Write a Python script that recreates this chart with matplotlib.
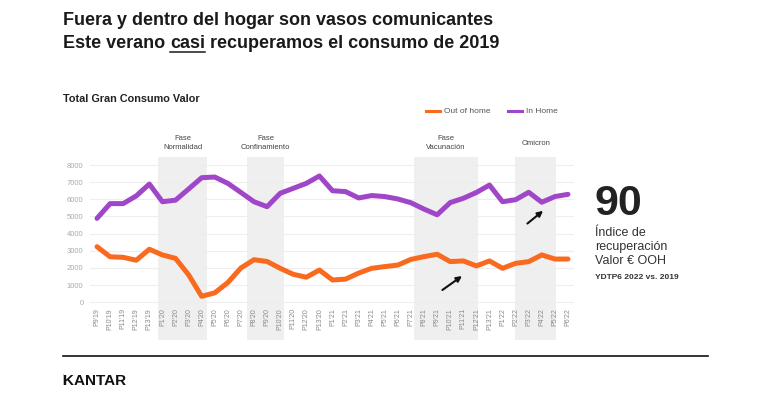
import matplotlib
matplotlib.use("Agg")
import matplotlib.pyplot as plt
from matplotlib.lines import Line2D
from matplotlib.patches import Rectangle

plt.rcParams['font.family'] = ['Liberation Sans', 'DejaVu Sans']

# ---- data ----
periods = ["P9'19", "P10'19", "P11'19", "P12'19", "P13'19",
           "P1'20", "P2'20", "P3'20", "P4'20", "P5'20", "P6'20", "P7'20", "P8'20",
           "P9'20", "P10'20", "P11'20", "P12'20", "P13'20",
           "P1'21", "P2'21", "P3'21", "P4'21", "P5'21", "P6'21", "P7'21", "P8'21",
           "P9'21", "P10'21", "P11'21", "P12'21", "P13'21",
           "P1'22", "P2'22", "P3'22", "P4'22", "P5'22", "P6'22"]

out_of_home = [3240, 2650, 2620, 2450, 3090, 2760, 2560, 1600, 350, 550, 1150, 2000, 2480,
               2380, 1980, 1630, 1460, 1880, 1300, 1350, 1700, 1980, 2080, 2170, 2500, 2660,
               2800, 2370, 2410, 2120, 2410, 1980, 2270, 2370, 2760, 2520, 2520]

in_home = [4890, 5750, 5750, 6200, 6890, 5860, 5950, 6600, 7260, 7300, 6930, 6400, 5860,
           5570, 6350, 6640, 6930, 7360, 6500, 6450, 6080, 6220, 6160, 6020, 5800, 5430,
           5100, 5810, 6060, 6400, 6830, 5860, 5980, 6410, 5830, 6160, 6290]

phase_names = ["Fase\nNormalidad", "Fase\nConfinamiento", "Fase\nVacunación", "Omicron"]
phase_spans = [(4.66, 8.41), (11.47, 14.3), (24.2, 29.15), (31.95, 35.1)]

# arrows: (start, end) in period index / value
arrows = [((26.4, 715), (27.9, 1530)), ((32.9, 4590), (34.1, 5330))]

recovery_index = "90"

ORANGE = "#FA6A1E"
PURPLE = "#A046C8"

fig = plt.figure(figsize=(7.7, 3.99), dpi=100)
ax = fig.add_axes([0.1175, 0.2381, 0.6286, 0.3684])

x = list(range(len(periods)))

# shaded phases, running down behind the tick labels
for (x0, x1) in phase_spans:
    ax.add_patch(Rectangle((x0, -0.245), x1 - x0, 1.245,
                           transform=ax.get_xaxis_transform(),
                           facecolor="#efefef", edgecolor="none",
                           clip_on=False, zorder=0))

ax.plot(x, out_of_home, color=ORANGE, lw=3.6, solid_joinstyle="round",
        solid_capstyle="round", zorder=3)
ax.plot(x, in_home, color=PURPLE, lw=3.6, solid_joinstyle="round",
        solid_capstyle="round", zorder=3)

for (start, end) in arrows:
    ax.annotate("", xy=end, xytext=start,
                arrowprops=dict(arrowstyle="-|>", color="#111111", lw=1.5,
                                mutation_scale=8, shrinkA=0, shrinkB=0),
                zorder=4)

ax.set_xlim(-0.5, len(periods) - 0.5)
ax.set_ylim(-100, 8466)
ax.set_yticks(range(0, 8001, 1000))
ax.set_xticks(x)
ax.set_xticklabels(periods, rotation=90, fontsize=5, color="#888888")
ax.tick_params(axis="y", labelsize=5.5, labelcolor="#aaaaaa", length=0, pad=5)
ax.tick_params(axis="x", length=0, pad=3)
ax.grid(axis="y", color="#eeeeee", lw=0.8, zorder=1)
ax.set_axisbelow(True)
for s in ax.spines.values():
    s.set_visible(False)
ax.set_facecolor("none")

# phase labels above the shaded bands
for name, (x0, x1) in zip(phase_names, phase_spans):
    ax.text((x0 + x1) / 2, 1.095, name, transform=ax.get_xaxis_transform(),
            ha="center", va="center", fontsize=5.5, color="#444444",
            linespacing=1.5)

# ---- titles ----
title_y1 = 1 - 25 / 399
title_y2 = 1 - 48 / 399
fig.text(0.0814, title_y1, "Fuera y dentro del hogar son vasos comunicantes",
         fontsize=13, fontweight="bold", color="#1a1a1a", va="baseline")

renderer = fig.canvas.get_renderer()
parts = ["Este verano ", "casi", " recuperamos el consumo de 2019"]
xpos = 0.0814
for k, part in enumerate(parts):
    t = fig.text(xpos, title_y2, part, fontsize=13, fontweight="bold",
                 color="#1a1a1a", va="baseline")
    bb = t.get_window_extent(renderer).transformed(fig.transFigure.inverted())
    if k == 1:
        fig.add_artist(Line2D([bb.x0, bb.x1], [title_y2 - 0.009, title_y2 - 0.009],
                              color="#1a1a1a", lw=1.1, transform=fig.transFigure))
    xpos = bb.x1

fig.text(0.0814, 0.7444, "Total Gran Consumo Valor", fontsize=7.8,
         fontweight="bold", color="#222222", va="baseline")

# legend
ly = 0.7218
fig.add_artist(Line2D([426 / 770, 440 / 770], [ly, ly], color=ORANGE, lw=2.2,
                      transform=fig.transFigure))
fig.text(444 / 770, ly, "Out of home", fontsize=6, color="#555555", va="center")
fig.add_artist(Line2D([508 / 770, 522 / 770], [ly, ly], color=PURPLE, lw=2.2,
                      transform=fig.transFigure))
fig.text(526 / 770, ly, "In Home", fontsize=6, color="#555555", va="center")

# recovery index block
fig.text(0.7727, 0.4612, recovery_index, fontsize=31, fontweight="bold",
         color="#222222", va="baseline")
fig.text(0.7727, 0.4085, "Índice de", fontsize=9, color="#333333", va="baseline")
fig.text(0.7727, 0.3734, "recuperación", fontsize=9, color="#333333", va="baseline")
fig.text(0.7727, 0.3371, "Valor € OOH", fontsize=9, color="#333333", va="baseline")
fig.text(0.7727, 0.3008, "YDTP6 2022 vs. 2019", fontsize=6, fontweight="bold",
         color="#333333", va="baseline")

# footer
fig.add_artist(Line2D([0.0814, 0.9195], [0.1078, 0.1078], color="#111111", lw=1.2,
                      transform=fig.transFigure))
fig.text(0.0814, 0.0351, "KANTAR", fontsize=11, fontweight="bold",
         color="#111111", va="baseline")
fig.patches.append(Rectangle((62.6 / 770, 14 / 399), 1.6 / 770, 11 / 399,
                             facecolor="#f2c100", edgecolor="none",
                             transform=fig.transFigure, figure=fig))

fig.savefig("out.png", dpi=100)
